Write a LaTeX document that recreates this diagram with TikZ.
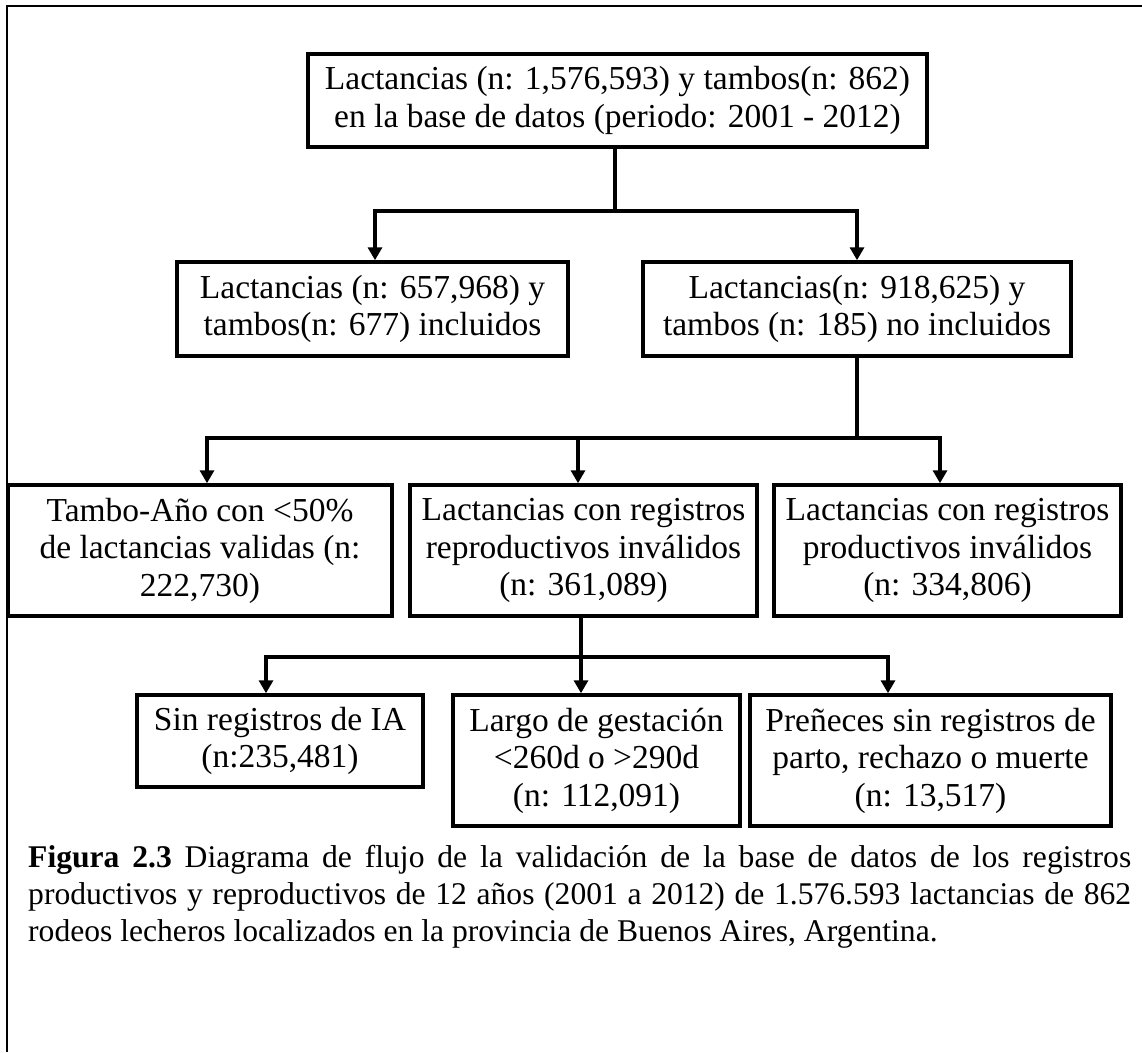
\documentclass[tikz,border=0pt]{standalone}
\usepackage{fontspec}
\setmainfont{Liberation Serif}
\usetikzlibrary{arrows.meta}
\tikzset{
  caja/.style={draw, line width=3.5pt, align=center, inner sep=0pt, font=\fontsize{33.5}{37.5}\selectfont},
  linea/.style={line width=3.5pt},
  flecha/.style={linea, -{Triangle[width=14pt,length=13pt]}}
}

\begin{document}
\begin{tikzpicture}[x=1pt,y=-1pt]
\useasboundingbox (0,0) rectangle (1142,1052);
\draw[line width=2pt] (7,1052) -- (7,6) -- (1142,6);

\node[caja, minimum width=619pt, minimum height=93pt] (base) at (617.5,100.5) {Lactancias (n: 1,576,593) y tambos(n: 862)\\en la base de datos (periodo: 2001 - 2012)};
\node[caja, minimum width=391pt, minimum height=94pt] (incl) at (372.5,309) {Lactancias (n: 657,968) y\\tambos(n: 677) incluidos};
\node[caja, minimum width=428pt, minimum height=94pt] (noincl) at (857,309) {Lactancias(n: 918,625) y\\tambos (n: 185) no incluidos};
\node[caja, minimum width=384pt, minimum height=131pt] (tambo) at (200,550.5) {Tambo-Año con <50\%\\de lactancias validas (n:\\222,730)};
\node[caja, minimum width=347pt, minimum height=131pt] (repro) at (583.5,550.5) {Lactancias con registros\\reproductivos inválidos\\(n: 361,089)};
\node[caja, minimum width=347pt, minimum height=131pt] (prod) at (947.5,550.5) {Lactancias con registros\\productivos inválidos\\(n: 334,806)};
\node[caja, minimum width=286pt, minimum height=92pt] (sinia) at (280,741) {Sin registros de IA\\(n:235,481)};
\node[caja, minimum width=287pt, minimum height=131pt] (largo) at (596.5,760.5) {Largo de gestación\\<260d o >290d\\(n: 112,091)};
\node[caja, minimum width=361pt, minimum height=131pt] (prenez) at (930.5,760.5) {Preñeces sin registros de\\parto, rechazo o muerte\\(n: 13,517)};

\draw[linea] ([xshift=-2.5pt]base.south) -- ++(0,62) coordinate (r1);
\draw[flecha] (r1) -| ([xshift=2.5pt]incl.north);
\draw[flecha] (r1) -| (noincl.north);

\draw[linea] (noincl.south) -- ++(0,80) coordinate (r2);
\draw[flecha] (r2) -| ([xshift=7pt]tambo.north);
\draw[flecha] (r2) -| ([xshift=-5.5pt]repro.north);
\draw[flecha] (r2) -| ([xshift=-7.5pt]prod.north);

\draw[linea] ([xshift=-2.5pt]repro.south) -- ++(0,39) coordinate (r3);
\draw[flecha] (r3) -| ([xshift=-14pt]sinia.north);
\draw[flecha] (r3) -| ([xshift=-15.5pt]largo.north);
\draw[flecha] (r3) -| ([xshift=-42.5pt]prenez.north);

\node[anchor=north west, inner sep=0pt, text width=1103pt, align=justify, font=\fontsize{31.6}{37}\selectfont] (pie) at (28,845) {\spaceskip=0.25em plus 0.6em minus 0.05em\tolerance=9999\hyphenpenalty=10000
\textbf{Figura 2.3} Diagrama de flujo de la validación de la base de datos de los registros\linebreak productivos y reproductivos de 12 años (2001 a 2012) de 1.576.593 lactancias de 862\linebreak rodeos lecheros localizados en la provincia de Buenos Aires, Argentina.};
\end{tikzpicture}
\end{document}
